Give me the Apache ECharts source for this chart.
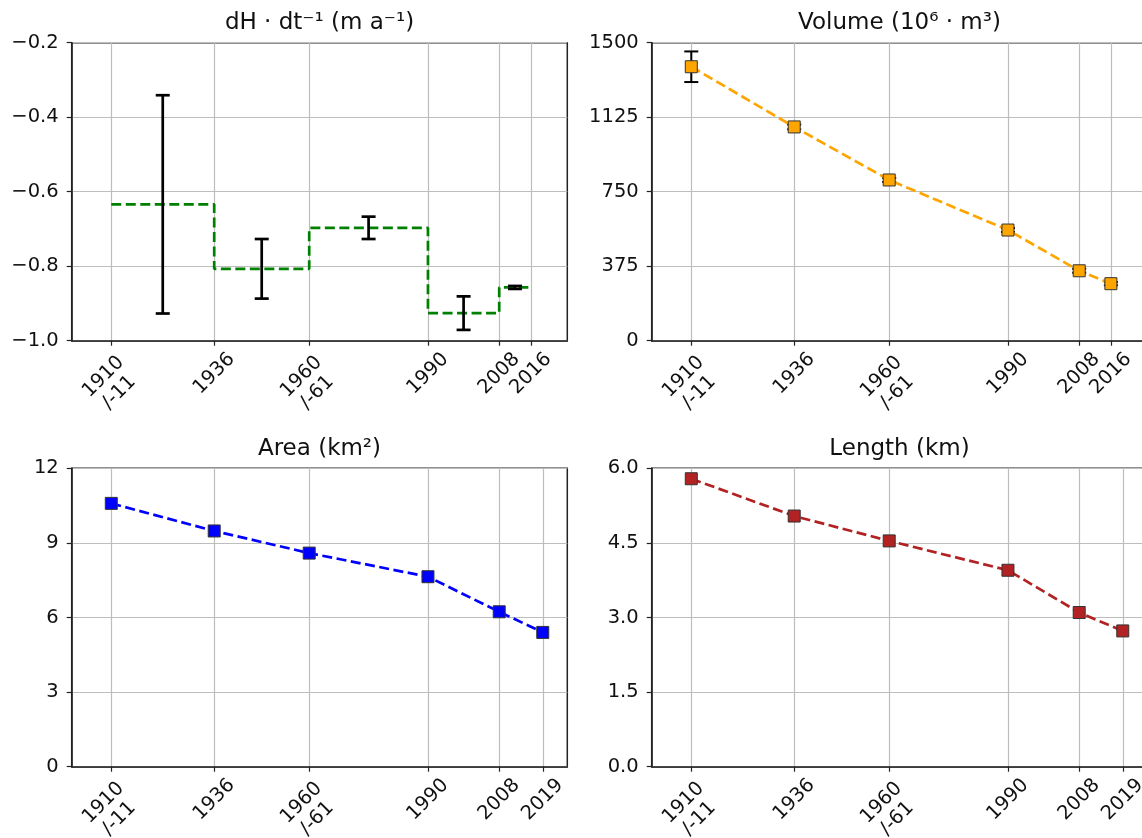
<!DOCTYPE html>
<html>
<head>
<meta charset="utf-8">
<script src="https://cdn.jsdelivr.net/npm/echarts@6/dist/echarts.min.js"></script>
<style>
  html, body { margin: 0; padding: 0; background: #fff; }
  #chart { width: 1142px; height: 838px; }
</style>
</head>
<body>
<div id="chart"></div>
<script>
// years on the x axes and their tick labels
const topYears = [1910, 1936, 1960, 1990, 2008, 2016];
const topTickLabels = ['1910\n/-11', '1936', '1960\n/-61', '1990', '2008', '2016'];
const bottomYears = [1910, 1936, 1960, 1990, 2008, 2019];
const bottomTickLabels = ['1910\n/-11', '1936', '1960\n/-61', '1990', '2008', '2019'];

// dH/dt per period (m a-1)
const dhStart = [1910, 1936, 1960, 1990, 2008];
const dhEnd = [1936, 1960, 1990, 2008, 2016];
const dhMid = [1923, 1948, 1975, 1999, 2012];
const dhRate = [-0.634, -0.807, -0.697, -0.926, -0.857];
const dhErr = [0.293, 0.080, 0.030, 0.045, 0.004];

// volume (10^6 m3), area (km2), length (km)
const volume = [1379, 1076, 809, 557, 352, 287];
const volumeErr = [77, 12, 10, 10, 10, 8];
const area = [10.59, 9.48, 8.59, 7.64, 6.23, 5.40];
const lengthKm = [5.79, 5.04, 4.54, 3.95, 3.10, 2.73];

const FONT = 'DejaVu Sans';
const SPINE = '#222';
const GRIDC = '#bdbdbd';

const chart = echarts.init(document.getElementById('chart'));

const grids = [
  {left: 71.7, top: 42.7, width: 495.6, height: 298},
  {left: 651.7, top: 42.7, width: 495.6, height: 298},
  {left: 71.7, top: 468.3, width: 495.6, height: 298.4},
  {left: 651.7, top: 468.3, width: 495.6, height: 298.4}
].map(g => Object.assign(g, {
  show: true, borderColor: SPINE, borderWidth: 1.5, backgroundColor: 'transparent',
  outerBoundsMode: 'none'
}));

function xAxesFor(gi, years, labels) {
  const single = years.filter((y, k) => labels[k].indexOf('\n') < 0);
  const double = years.filter((y, k) => labels[k].indexOf('\n') >= 0);
  const fmt = v => {
    const k = years.indexOf(v);
    return k < 0 ? '' : labels[k];
  };
  const lbl = {
    formatter: fmt, rotate: 45, align: 'center', verticalAlign: 'middle',
    fontSize: 19.5, lineHeight: 22, color: '#111', fontFamily: FONT
  };
  const base = {type: 'value', gridIndex: gi, min: 1900, max: 2025.2, position: 'bottom'};
  return [
    Object.assign({}, base, {
      axisLine: {show: true, onZero: false, lineStyle: {color: SPINE, width: 1.5}},
      axisTick: {show: true, length: 5, customValues: years, lineStyle: {color: SPINE, width: 1.2}},
      splitLine: {show: true, lineStyle: {color: GRIDC, width: 1.2}},
      axisLabel: Object.assign({customValues: single, margin: 33}, lbl)
    }),
    Object.assign({}, base, {
      axisLine: {show: false}, axisTick: {show: false}, splitLine: {show: false},
      axisLabel: Object.assign({customValues: double, margin: 44}, lbl)
    })
  ];
}

function yAxisFor(gi, min, max, interval, fmt) {
  return {
    type: 'value', gridIndex: gi, min: min, max: max, interval: interval,
    axisLine: {show: true, onZero: false, lineStyle: {color: SPINE, width: 1.5}},
    axisTick: {show: true, length: 5, lineStyle: {color: SPINE, width: 1.2}},
    splitLine: {show: true, lineStyle: {color: GRIDC, width: 1.2}},
    axisLabel: {formatter: fmt, margin: 13, fontSize: 19.5, color: '#111', fontFamily: FONT}
  };
}

function errorBars(xi, yi, xs, centers, errs, width, cap, z) {
  return {
    type: 'custom', xAxisIndex: xi, yAxisIndex: yi, z: z,
    data: xs.map((x, k) => [x, centers[k] - errs[k], centers[k] + errs[k]]),
    encode: {x: 0, y: [1, 2]},
    renderItem: function (params, api) {
      const lo = api.coord([api.value(0), api.value(1)]);
      const hi = api.coord([api.value(0), api.value(2)]);
      const st = {stroke: '#000', lineWidth: width};
      return {
        type: 'group',
        children: [
          {type: 'line', shape: {x1: lo[0], y1: lo[1], x2: hi[0], y2: hi[1]}, style: st},
          {type: 'line', shape: {x1: lo[0] - cap, y1: lo[1], x2: lo[0] + cap, y2: lo[1]}, style: st},
          {type: 'line', shape: {x1: hi[0] - cap, y1: hi[1], x2: hi[0] + cap, y2: hi[1]}, style: st}
        ]
      };
    }
  };
}

function markerLine(xi, yi, xs, ys, color) {
  return {
    type: 'line', xAxisIndex: xi, yAxisIndex: yi, z: 5,
    data: xs.map((x, k) => [x, ys[k]]),
    symbol: 'rect', symbolSize: 12, showSymbol: true,
    itemStyle: {color: color, borderColor: '#333', borderWidth: 1},
    lineStyle: {color: color, width: 2.7, type: [10, 4.5]}
  };
}

const minus = v => (v < 0 ? '\u2212' : '') + Math.abs(v).toFixed(1);

function title(text, x, y) {
  return {
    text: text, left: x, top: y, textAlign: 'center', padding: 0,
    textStyle: {fontSize: 23, fontWeight: 'normal', color: '#111', fontFamily: FONT}
  };
}

const stepData = dhStart.map((x, k) => [x, dhRate[k]]);
stepData.push([dhEnd[dhEnd.length - 1], dhRate[dhRate.length - 1]]);

chart.setOption({
  animation: false,
  backgroundColor: '#fff',
  title: [
    title('dH \u00b7 dt\u207b\u00b9 (m a\u207b\u00b9)', 319.5, 12),
    title('Volume (10\u2076 \u00b7 m\u00b3)', 899.5, 12),
    title('Area (km\u00b2)', 319.5, 438),
    title('Length (km)', 899.5, 438)
  ],
  grid: grids,
  xAxis: [].concat(
    xAxesFor(0, topYears, topTickLabels),
    xAxesFor(1, topYears, topTickLabels),
    xAxesFor(2, bottomYears, bottomTickLabels),
    xAxesFor(3, bottomYears, bottomTickLabels)
  ),
  yAxis: [
    yAxisFor(0, -1.0, -0.2, 0.2, minus),
    yAxisFor(1, 0, 1500, 375, v => String(v)),
    yAxisFor(2, 0, 12, 3, v => String(v)),
    yAxisFor(3, 0, 6, 1.5, v => v.toFixed(1))
  ],
  series: [
    {
      type: 'line', xAxisIndex: 0, yAxisIndex: 0, z: 3,
      data: stepData, step: 'end', showSymbol: false, symbol: 'none',
      lineStyle: {color: '#008000', width: 2.7, type: [10, 4.5]}
    },
    errorBars(0, 0, dhMid, dhRate, dhErr, 2.7, 7, 4),
    errorBars(2, 1, topYears, volume, volumeErr, 2, 7, 2),
    markerLine(2, 1, topYears, volume, '#FFA500'),
    markerLine(4, 2, bottomYears, area, '#0000FF'),
    markerLine(6, 3, bottomYears, lengthKm, '#B22222')
  ]
});
</script>
</body>
</html>
